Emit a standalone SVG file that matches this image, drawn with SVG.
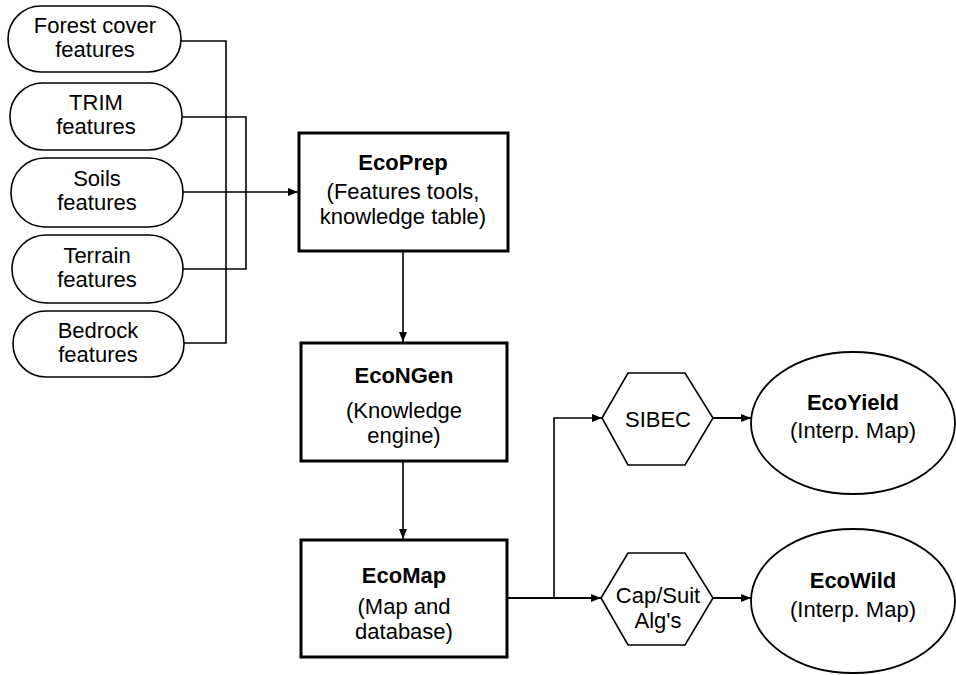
<svg xmlns="http://www.w3.org/2000/svg" width="956" height="675" viewBox="0 0 956 675">
<style>
text{font-family:"Liberation Sans",Arial,sans-serif;font-size:22px;fill:#000;text-anchor:middle}
.b{font-weight:bold}
.pill{fill:#fff;stroke:#000;stroke-width:1.6}
.box{fill:#fff;stroke:#000;stroke-width:3}
.hex{fill:#fff;stroke:#000;stroke-width:1.6}
.ell{fill:#fff;stroke:#000;stroke-width:1.8}
.c{fill:none;stroke:#000;stroke-width:1.6}
</style>
<defs>
<marker id="a" viewBox="0 0 10 8" refX="10" refY="4" markerWidth="10" markerHeight="8" markerUnits="userSpaceOnUse" orient="auto">
<path d="M0,0L10,4L0,8z" fill="#000"/>
</marker>
</defs>
<rect width="956" height="675" fill="#fff"/>
<g id="connectors">
<polyline class="c" points="181,41 226,41 226,343 184,343"/>
<polyline class="c" points="182,117 246,117 246,269 183,269"/>
<line class="c" x1="183" y1="192" x2="298" y2="192" marker-end="url(#a)"/>
<line class="c" x1="403" y1="251" x2="403" y2="342" marker-end="url(#a)"/>
<line class="c" x1="403" y1="461" x2="403" y2="539" marker-end="url(#a)"/>
<line class="c" x1="508" y1="598" x2="601" y2="598" marker-end="url(#a)" style="stroke-width:2"/>
<polyline class="c" points="554,598 554,418 602,418" marker-end="url(#a)"/>
<line class="c" x1="713" y1="418" x2="751" y2="418" marker-end="url(#a)" style="stroke-width:2"/>
<line class="c" x1="713" y1="598" x2="751" y2="598" marker-end="url(#a)" style="stroke-width:2"/>
</g>
<g id="forest">
<rect class="pill" x="8" y="6" width="173" height="66" rx="33"/>
<text x="95" y="33">Forest cover</text><text x="95" y="57">features</text>
</g>
<g id="trim">
<rect class="pill" x="10" y="83" width="172" height="67" rx="33"/>
<text x="96" y="110">TRIM</text><text x="96" y="134">features</text>
</g>
<g id="soils">
<rect class="pill" x="11" y="158" width="172" height="69" rx="34"/>
<text x="97" y="186">Soils</text><text x="97" y="210">features</text>
</g>
<g id="terrain">
<rect class="pill" x="12" y="235" width="171" height="68" rx="34"/>
<text x="97" y="263">Terrain</text><text x="97" y="287">features</text>
</g>
<g id="bedrock">
<rect class="pill" x="13" y="311" width="171" height="66" rx="33"/>
<text x="98" y="338">Bedrock</text><text x="98" y="362">features</text>
</g>
<g id="ecoprep">
<rect class="box" x="299" y="133" width="209" height="118"/>
<text class="b" x="403" y="170">EcoPrep</text>
<text x="403" y="199">(Features tools,</text>
<text x="403" y="224">knowledge table)</text>
</g>
<g id="econgen">
<rect class="box" x="301" y="343" width="206" height="118"/>
<text class="b" x="404" y="383">EcoNGen</text>
<text x="404" y="418">(Knowledge</text>
<text x="404" y="443">engine)</text>
</g>
<g id="ecomap">
<rect class="box" x="301" y="540" width="206" height="117"/>
<text class="b" x="404" y="583">EcoMap</text>
<text x="404" y="614">(Map and</text>
<text x="404" y="639">database)</text>
</g>
<g id="sibec">
<polygon class="hex" points="602,418 628,373 685,373 713,418 685,465 628,465"/>
<text x="658" y="427">SIBEC</text>
</g>
<g id="capsuit">
<polygon class="hex" points="601,598 628,553 685,553 713,598 685,645 628,645"/>
<text x="658" y="603">Cap/Suit</text>
<text x="658" y="628">Alg's</text>
</g>
<g id="ecoyield">
<ellipse class="ell" cx="853" cy="423" rx="102" ry="71"/>
<text class="b" x="853" y="410">EcoYield</text>
<text x="853" y="438">(Interp. Map)</text>
</g>
<g id="ecowild">
<ellipse class="ell" cx="853" cy="601" rx="102" ry="72"/>
<text class="b" x="853" y="588">EcoWild</text>
<text x="853" y="617">(Interp. Map)</text>
</g>
</svg>
